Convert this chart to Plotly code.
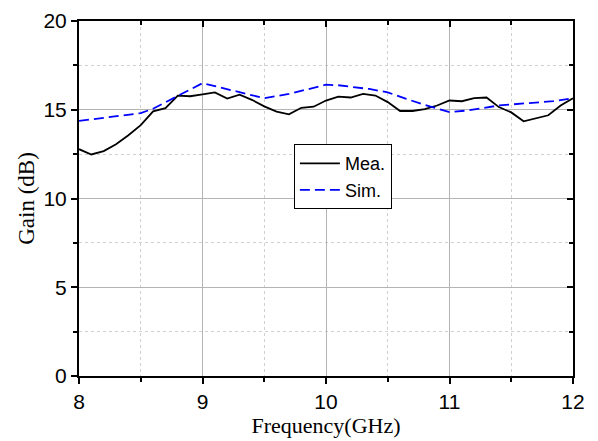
import plotly.graph_objects as go

freq_mea = [8.0, 8.1, 8.2, 8.3, 8.4, 8.5, 8.6, 8.7, 8.8, 8.9, 9.0, 9.1, 9.2, 9.3, 9.4, 9.5,
            9.6, 9.7, 9.8, 9.9, 10.0, 10.1, 10.2, 10.3, 10.4, 10.5, 10.6, 10.7, 10.8, 10.9,
            11.0, 11.1, 11.2, 11.3, 11.4, 11.5, 11.6, 11.7, 11.8, 11.9, 12.0]
gain_mea = [12.78, 12.48, 12.67, 13.06, 13.56, 14.13, 14.91, 15.09, 15.80, 15.76, 15.87,
            15.98, 15.63, 15.85, 15.56, 15.19, 14.89, 14.74, 15.11, 15.17, 15.52, 15.74,
            15.69, 15.89, 15.80, 15.43, 14.93, 14.93, 15.04, 15.24, 15.52, 15.48, 15.65,
            15.69, 15.15, 14.85, 14.35, 14.54, 14.69, 15.24, 15.65]

freq_sim = [8.0, 8.5, 8.6, 8.7, 8.83, 9.0, 9.1, 9.3, 9.5, 9.7, 10.0, 10.1, 10.35, 10.5,
            10.65, 10.84, 11.0, 11.15, 11.4, 11.63, 11.84, 12.0]
gain_sim = [14.37, 14.81, 15.06, 15.43, 15.89, 16.50, 16.33, 15.98, 15.65, 15.89, 16.41,
            16.38, 16.17, 15.98, 15.61, 15.19, 14.87, 14.96, 15.24, 15.37, 15.48, 15.65]

x_ticks = [8, 9, 10, 11, 12]
y_ticks = [0, 5, 10, 15, 20]

fig = go.Figure()
fig.add_trace(go.Scatter(x=freq_mea, y=gain_mea, mode="lines", name="Mea.",
                         line=dict(color="black", width=1.8)))
fig.add_trace(go.Scatter(x=freq_sim, y=gain_sim, mode="lines", name="Sim.",
                         line=dict(color="#0000ff", width=1.8, dash="10px,5px")))
# dummy trace to host mirrored top/right axes
fig.add_trace(go.Scatter(x=[None], y=[None], xaxis="x2", yaxis="y2",
                         showlegend=False, hoverinfo="skip"))

tick_font = dict(family="Liberation Sans, Arial, sans-serif", size=21, color="black")
xtitle_font = dict(family="Liberation Serif, Times New Roman, serif", size=22, color="black")
ytitle_font = dict(family="Liberation Serif, Times New Roman, serif", size=23, color="black")

fig.update_layout(
    width=590, height=433,
    margin=dict(l=71, r=25, t=13, b=65),
    paper_bgcolor="white", plot_bgcolor="white",
    showlegend=True,
    legend=dict(x=0.435, y=0.653, xanchor="left", yanchor="top",
                bordercolor="black", borderwidth=1, bgcolor="white",
                font=dict(family="Liberation Sans, Arial, sans-serif", size=18, color="black"),
                tracegroupgap=0, itemwidth=40),
    xaxis=dict(range=[8, 12], tickvals=x_ticks, ticks="outside", ticklen=6, tickwidth=1.5,
               tickcolor="black", showline=True, linecolor="black", linewidth=2,
               showgrid=True, gridcolor="#b4b4b4", gridwidth=1, zeroline=False,
               tickfont=tick_font, ticklabeloverflow="allow", automargin=False,
               title=dict(text="Frequency(GHz)", font=xtitle_font, standoff=2),
               minor=dict(dtick=0.5, ticks="outside", ticklen=4, tickcolor="black",
                          showgrid=True, gridcolor="#d0d0d0", griddash="dot", gridwidth=1)),
    yaxis=dict(range=[0, 20], tickvals=y_ticks, ticks="outside", ticklen=6, tickwidth=1.5,
               tickcolor="black", showline=True, linecolor="black", linewidth=2,
               showgrid=True, gridcolor="#b4b4b4", gridwidth=1, zeroline=False,
               tickfont=tick_font, ticklabeloverflow="allow", automargin=False,
               title=dict(text="Gain (dB)", font=ytitle_font, standoff=2),
               minor=dict(dtick=2.5, ticks="outside", ticklen=4, tickcolor="black",
                          showgrid=True, gridcolor="#d0d0d0", griddash="dot", gridwidth=1)),
    xaxis2=dict(overlaying="x", side="top", range=[8, 12], tickvals=x_ticks,
                ticks="inside", ticklen=6, tickwidth=1.5, tickcolor="black",
                showticklabels=False, showline=True, linecolor="black", linewidth=2,
                showgrid=False, zeroline=False, automargin=False,
                minor=dict(dtick=0.5, ticks="inside", ticklen=4, tickcolor="black")),
    yaxis2=dict(overlaying="y", side="right", range=[0, 20], tickvals=y_ticks,
                ticks="inside", ticklen=6, tickwidth=1.5, tickcolor="black",
                showticklabels=False, showline=True, linecolor="black", linewidth=2,
                showgrid=False, zeroline=False, automargin=False,
                minor=dict(dtick=2.5, ticks="inside", ticklen=4, tickcolor="black")),
)

fig.write_html("out.html")
